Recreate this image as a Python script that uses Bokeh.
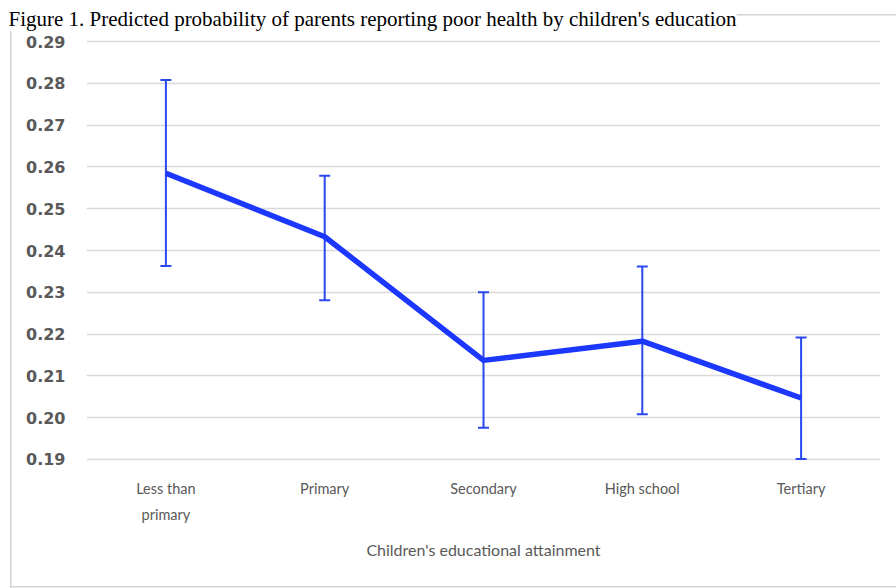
from bokeh.plotting import figure
from bokeh.models import (FactorRange, Range1d, ColumnDataSource, Whisker, TeeHead,
                          FixedTicker, NumeralTickFormatter)
from bokeh.embed import file_html
from bokeh.resources import INLINE

categories = ["Less than\nprimary", "Primary", "Secondary", "High school", "Tertiary"]
predicted = [0.2585, 0.2433, 0.2137, 0.2183, 0.2047]
upper_ci = [0.2808, 0.2579, 0.2300, 0.2362, 0.2192]
lower_ci = [0.2363, 0.2281, 0.1976, 0.2008, 0.1901]
y_ticks = [0.19, 0.20, 0.21, 0.22, 0.23, 0.24, 0.25, 0.26, 0.27, 0.28, 0.29]
chart_title = "Figure 1. Predicted probability of parents reporting poor health by children's education"
x_title = "Children's educational attainment"

src = ColumnDataSource(dict(cat=categories, y=predicted, upper=upper_ci, lower=lower_ci))

p = figure(x_range=FactorRange(*categories),
           y_range=Range1d(y_ticks[0] - 0.0005, y_ticks[-1] + 0.0005),
           width=896, height=588, output_backend="svg", toolbar_location=None,
           min_border_left=86, min_border_right=16, min_border_top=39, min_border_bottom=127)
p.outline_line_color = None
p.background_fill_color = "white"
p.border_fill_alpha = 0

# outer chart frame (light grey box behind the transparent canvas border)
g = "linear-gradient(#d3d3d3,#d3d3d3)"
p.styles = {
    "background": (f"{g} 10px 14px / 1.5px 574px no-repeat, "
                   f"{g} 10px 14px / 886px 1.5px no-repeat, "
                   f"{g} 10px 586px / 886px 1.5px no-repeat, white"),
}

p.title.text = chart_title
p.title.text_font = "Liberation Serif"
p.title.text_font_size = "21px"
p.title.text_font_style = "normal"
p.title.text_color = "black"
p.title.align = "left"
p.title.offset = -78
p.title.vertical_align = "top"
p.title.standoff = 13
p.title.text_line_height = 1.0
p.title.background_fill_color = "white"

p.xgrid.grid_line_color = None
p.ygrid.grid_line_color = "#d9d9d9"
p.ygrid.grid_line_width = 1.5

p.yaxis.ticker = FixedTicker(ticks=y_ticks)
p.yaxis.formatter = NumeralTickFormatter(format="0.00")
for ax in (p.xaxis[0], p.yaxis[0]):
    ax.axis_line_color = None
    ax.major_tick_line_color = None
    ax.minor_tick_line_color = None
    ax.major_tick_in = 0
    ax.major_tick_out = 0
    ax.major_label_text_color = "#595959"

p.yaxis.major_label_standoff = 21
p.yaxis.major_label_text_font = "DejaVu Sans"
p.yaxis.major_label_text_font_style = "bold"
p.yaxis.major_label_text_font_size = "16px"

p.xaxis.major_label_standoff = 18
p.xaxis.major_label_text_font = "Lato"
p.xaxis.major_label_text_font_size = "14.5px"
p.xaxis.major_label_text_line_height = 1.55
p.xaxis.axis_label = x_title
p.xaxis.axis_label_standoff = 14
p.xaxis.axis_label_text_font = "Lato"
p.xaxis.axis_label_text_font_style = "normal"
p.xaxis.axis_label_text_font_size = "16px"
p.xaxis.axis_label_text_color = "#595959"

eb = Whisker(base="cat", upper="upper", lower="lower", source=src,
             line_color="#2a48f0", line_width=2,
             upper_head=TeeHead(size=11, line_color="#2a48f0", line_width=2),
             lower_head=TeeHead(size=11, line_color="#2a48f0", line_width=2))
p.add_layout(eb)

p.line(x="cat", y="y", source=src, line_color="#1c38ff", line_width=5.5, line_join="round")

open("out.html", "w").write(file_html(p, INLINE))
